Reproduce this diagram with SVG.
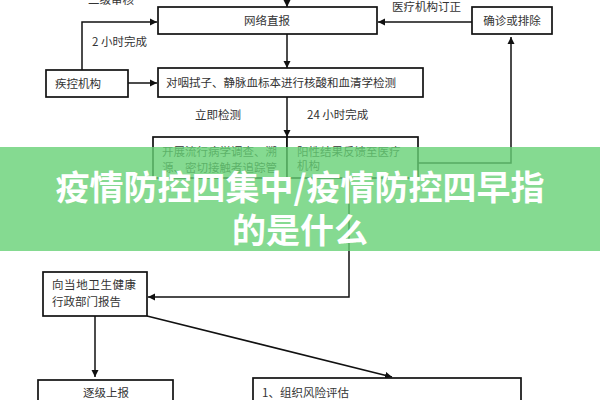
<svg xmlns="http://www.w3.org/2000/svg" width="600" height="400" viewBox="0 0 600 400">
<defs>
<marker id="ah" markerUnits="userSpaceOnUse" markerWidth="8" markerHeight="8" refX="7" refY="4" orient="auto">
<path d="M0,0.5 L7,4 L0,7.5 z" fill="#111"/>
</marker>
<style>
.box{fill:#fff;stroke:#111;stroke-width:1.7}
.t{font-family:"Noto Sans CJK SC","Noto Sans",sans-serif;font-size:11.5px;fill:#333}
.c{fill:none;stroke:#111;stroke-width:1.5;marker-end:url(#ah)}
.ban{font-family:"Noto Sans CJK SC","Noto Sans",sans-serif;font-size:34px;font-weight:700;fill:#fff}
</style>
</defs>
<rect width="600" height="400" fill="#fff"/>
<g id="connectors">
<path class="c" d="M287,-4 L287,7"/>
<path class="c" d="M287,34 L287,68"/>
<path class="c" d="M82,70 L82,22 L157,22"/>
<path class="c" d="M128,83 L157,83"/>
<path class="c" d="M472,22 L378,22"/>
<path class="c" d="M287,97 L287,137"/>
<path class="c" d="M418,163 L511,163 L511,37"/>
<path class="c" d="M349,178 L349,297 L148,297"/>
<path class="c" d="M95,316 L95,377"/>
<path class="c" d="M147,316 L392,377"/>
</g>
<g id="labels">
<text class="t" x="88" y="4">二级审核</text>
<text class="t" x="392" y="11">医疗机构订正</text>
<text class="t" x="92" y="46">2 小时完成</text>
<text class="t" x="195" y="119">立即检测</text>
<text class="t" x="307" y="119">24 小时完成</text>
</g>
<g id="n-wangluo">
<rect class="box" x="158" y="7" width="219" height="27"/>
<text class="t" x="267" y="24.5" text-anchor="middle">网络直报</text>
</g>
<g id="n-quezhen">
<rect class="box" x="472" y="7" width="80" height="27"/>
<text class="t" x="512" y="24.5" text-anchor="middle">确诊或排除</text>
</g>
<g id="n-jikong">
<rect class="box" x="46" y="70" width="82" height="27"/>
<text class="t" x="55" y="87.5">疾控机构</text>
</g>
<g id="n-jiance">
<rect class="box" x="158" y="68" width="265" height="29"/>
<text class="t" x="166" y="86.5">对咽拭子、静脉血标本进行核酸和血清学检测</text>
</g>
<g id="n-liudiao">
<rect class="box" x="153" y="137" width="134" height="41"/>
<text class="t" x="162" y="156">开展流行病学调查、溯</text>
<text class="t" x="162" y="172">源、密切接触者追踪管</text>
</g>
<g id="n-yangxing">
<rect class="box" x="287" y="137" width="131" height="41"/>
<text class="t" x="297" y="156">阳性结果反馈至医疗</text>
<text class="t" x="297" y="170">机构</text>
</g>
<g id="n-baogao">
<rect class="box" x="43" y="272" width="104" height="44"/>
<text class="t" x="52" y="289" letter-spacing="0.6">向当地卫生健康</text>
<text class="t" x="52" y="306">行政部门报告</text>
</g>
<g id="n-zhuji">
<rect class="box" x="38" y="380" width="135" height="30"/>
<text class="t" x="106" y="397" text-anchor="middle">逐级上报</text>
</g>
<g id="n-pinggu">
<rect class="box" x="253" y="378" width="268" height="30"/>
<text class="t" x="262" y="397">1、组织风险评估</text>
</g>
<g id="banner">
<rect x="0" y="147" width="600" height="104" fill="rgb(103,209,118)" opacity="0.8"/>
<text class="ban" x="300" y="200" text-anchor="middle">疫情防控四集中/疫情防控四早指</text>
<text class="ban" x="300" y="243" text-anchor="middle">的是什么</text>
</g>
</svg>
